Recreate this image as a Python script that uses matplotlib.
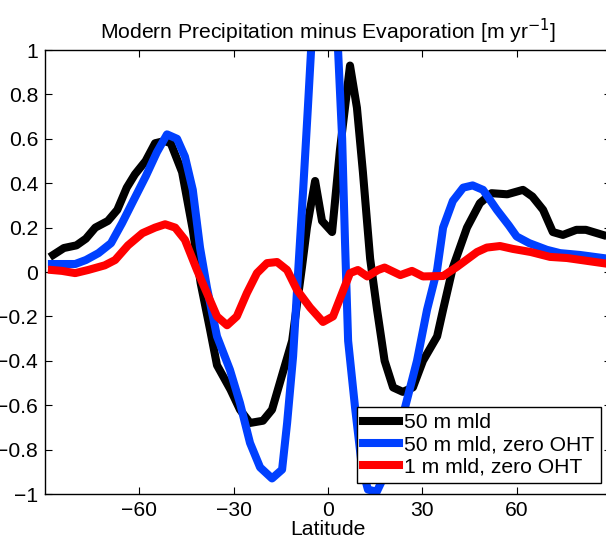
import matplotlib
matplotlib.use("Agg")
import matplotlib.pyplot as plt
from matplotlib.ticker import FuncFormatter

plt.rcParams['font.family'] = ['Liberation Sans', 'DejaVu Sans']

# Zonal-mean P - E [m/yr] for three slab-ocean configurations
lat_mld50 = [-87.4, -84, -80, -77, -74, -70, -67, -64, -61.4, -58, -55, -52, -50,
             -46.4, -43, -40.5, -37.5, -35.3, -31, -28, -24.8, -20.7, -17.8, -14.3,
             -11.4, -10, -8.3, -6.7, -4.1, -1.9, 1.3, 3.8, 7, 9.2, 11.1, 13.4, 15.6,
             18, 20.7, 23.8, 27, 30.2, 34.7, 36.6, 39.7, 44.2, 48.3, 52, 57, 62, 65,
             68.4, 71.5, 74.7, 79, 82, 87.4]
pme_mld50 = [0.077, 0.108, 0.12, 0.15, 0.2, 0.23, 0.28, 0.38, 0.44, 0.5, 0.58, 0.59, 0.58,
             0.45, 0.19, -0.05, -0.26, -0.42, -0.53, -0.62, -0.68, -0.67, -0.62, -0.45,
             -0.31, -0.16, 0.02, 0.2, 0.41, 0.23, 0.18, 0.55, 0.93, 0.74, 0.45, 0.06, -0.17,
             -0.4, -0.52, -0.54, -0.52, -0.40, -0.29, -0.17, 0.02, 0.2, 0.31, 0.355, 0.35,
             0.37, 0.34, 0.28, 0.18, 0.167, 0.19, 0.19, 0.167]

lat_mld50_zoht = [-87.8, -80.4, -77, -73, -69, -65.5, -62.3, -58, -54.4, -51.2, -48, -45.5,
                  -43, -40.7, -38.5, -35.3, -31.2, -28, -24.8, -21.6, -17.8, -14.6, -13,
                  -11.1, -9.5, -7.9, -6.4, -4.2, -1.4, 1.4, 3.2, 4.5, 5.4, 6.4, 8.6, 10.8,
                  12.7, 15.5, 18.5, 21.5, 24.5, 28.3, 31.5, 34.7, 36.6, 39.7, 43, 46, 49.3,
                  53.7, 57.5, 60, 64, 69.6, 73.8, 80, 87.4]
pme_mld50_zoht = [0.036, 0.036, 0.054, 0.085, 0.13, 0.22, 0.31, 0.43, 0.54, 0.62, 0.60, 0.52,
                  0.37, 0.11, -0.07, -0.29, -0.44, -0.59, -0.77, -0.88, -0.93, -0.89, -0.68,
                  -0.38, 0.0, 0.37, 0.74, 1.3, 1.7, 1.6, 1.0, 0.6, 0.14, -0.31, -0.61, -0.88,
                  -0.98, -0.99, -0.9, -0.76, -0.61, -0.40, -0.17, 0.01, 0.2, 0.32, 0.38, 0.39,
                  0.37, 0.28, 0.21, 0.16, 0.13, 0.1, 0.085, 0.077, 0.063]

lat_mld1_zoht = [-87.8, -84.6, -80.4, -76.3, -71, -67.7, -63.6, -59, -55, -51.8, -48.6, -45.5,
                 -41.7, -38.5, -35.3, -32.1, -29, -25.8, -22.6, -19.4, -16.2, -13, -9.9,
                 -5.7, -1.6, 1.6, 4.5, 7, 9.5, 12.5, 15.9, 18, 23, 26.7, 30.2, 36.6, 41,
                 47.4, 50.5, 54.7, 58.8, 64.5, 70.6, 76, 87.4]
pme_mld1_zoht = [0.009, 0.005, -0.005, 0.009, 0.03, 0.054, 0.12, 0.175, 0.2, 0.215, 0.2, 0.145,
                 0.01, -0.095, -0.2, -0.24, -0.2, -0.095, -0.005, 0.04, 0.045, 0.009, -0.08,
                 -0.16, -0.225, -0.2, -0.095, -0.005, 0.009, -0.02, 0.009, 0.02, -0.014, 0.005,
                 -0.02, -0.018, 0.023, 0.09, 0.11, 0.117, 0.104, 0.09, 0.068, 0.063, 0.04]

labels = ['50 m mld', '50 m mld, zero OHT', '1 m mld, zero OHT']
colors = ['#000000', '#0040ff', '#ff0000']

xticks = [-60, -30, 0, 30, 60]
yticks = [-1, -0.8, -0.6, -0.4, -0.2, 0, 0.2, 0.4, 0.6, 0.8, 1]

FS = 15.2

fig = plt.figure(figsize=(6.06, 5.40), dpi=100)
ax = fig.add_axes([45 / 606, 46 / 540, 566 / 606, 444 / 540])

series = [(lat_mld50, pme_mld50), (lat_mld50_zoht, pme_mld50_zoht),
          (lat_mld1_zoht, pme_mld1_zoht)]
for (x, y), c, lab in zip(series, colors, labels):
    ax.plot(x, y, color=c, lw=5.8, label=lab, solid_joinstyle='round')

ax.set_xlim(-90, 90)
ax.set_ylim(-1, 1)
ax.set_xticks(xticks)
ax.set_yticks(yticks)
ax.yaxis.set_major_formatter(FuncFormatter(lambda v, p: ('%g' % v).replace('-', '\u2212')))
ax.tick_params(direction='in', length=5, width=0.8, labelsize=FS,
               top=True, right=True, pad=5)
for s in ax.spines.values():
    s.set_linewidth(1.0)

ax.set_title('Modern Precipitation minus Evaporation [m yr$^{-1}$]', fontsize=FS, pad=8)
ax.set_xlabel('Latitude', fontsize=FS, labelpad=0)

leg = ax.legend(loc='upper left', bbox_to_anchor=(0.551, 0.196), borderaxespad=0,
                fontsize=FS, handlelength=1.7, handletextpad=0.25, labelspacing=0.15,
                borderpad=0.3, fancybox=False, framealpha=1, edgecolor='black')
leg.get_frame().set_linewidth(1.0)

fig.savefig('out.png', dpi=100)
